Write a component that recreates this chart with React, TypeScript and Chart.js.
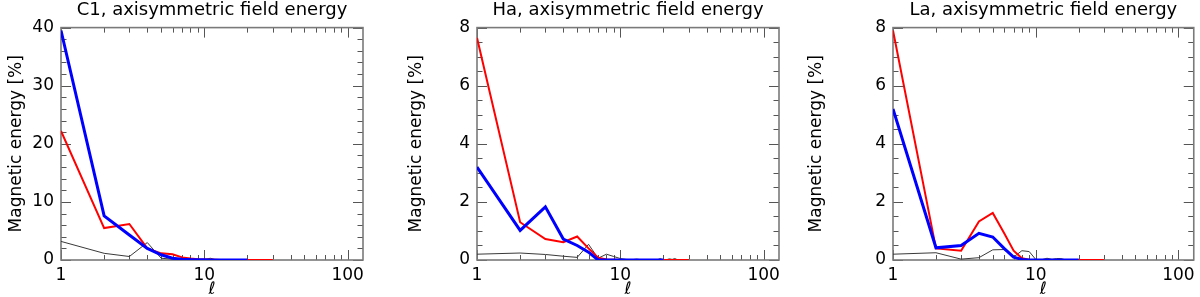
import React, { useEffect, useRef } from 'react';
import { Chart, registerables } from 'chart.js';

Chart.register(...registerables);

// ---- data ----
const ELL = [1, 2, 3, 4, 5, 6, 7, 8, 9, 10, 11, 12, 13, 14, 15, 16, 17, 18, 19, 20, 21, 22, 23, 24, 25, 26, 27, 28, 29, 30];

const C1_RED = [22.2, 5.5, 6.2, 2.0, 1.15, 1.0, 0.45, 0.25, 0.12, 0.08, 0.05, 0.03, 0.02, 0.01, 0.01, 0, 0, 0, 0, 0, 0, 0, 0, 0, 0, 0, 0, 0, 0, 0];
const C1_BLUE = [39.5, 7.6, 4.3, 2.0, 0.9, 0.3, 0.15, 0.08, 0.05, 0.03, 0.02, 0.01, 0.01, 0, 0, 0, 0, 0, 0, 0];
const C1_GRAY = [3.2, 1.15, 0.6, 3.0, 0.3, 0.15, 0.1, 0.05, 0.05, 0.05, 0.3, 0.05, 0.02, 0.01, 0, 0, 0, 0, 0, 0, 0, 0, 0, 0, 0, 0, 0, 0, 0, 0];

const HA_RED = [7.65, 1.3, 0.72, 0.61, 0.81, 0.4, 0.08, 0.02, 0.01, 0, 0, 0, 0, 0, 0, 0, 0, 0, 0, 0, 0, 0, 0, 0, 0, 0, 0, 0, 0, 0];
const HA_BLUE = [3.2, 1.02, 1.83, 0.72, 0.5, 0.27, 0, 0, 0, 0, 0, 0, 0, 0, 0, 0, 0, 0, 0, 0];
const HA_GRAY = [0.2, 0.24, 0.19, 0.13, 0.09, 0.54, 0.06, 0.2, 0.12, 0.05, 0.02, 0.01, 0.03, 0.01, 0, 0, 0, 0, 0.05, 0, 0.01, 0.04, 0.02, 0.05, 0.01, 0, 0, 0, 0, 0.02];

const LA_RED = [7.9, 0.4, 0.32, 1.33, 1.62, 0.93, 0.32, 0.06, 0.01, 0, 0, 0, 0, 0, 0, 0, 0, 0, 0, 0, 0, 0, 0, 0, 0, 0, 0, 0, 0, 0];
const LA_BLUE = [5.2, 0.42, 0.5, 0.92, 0.79, 0.4, 0.1, 0.02, 0, 0, 0, 0, 0, 0, 0, 0, 0, 0, 0, 0];
const LA_GRAY = [0.2, 0.25, 0.03, 0.08, 0.35, 0.36, 0.1, 0.32, 0.29, 0.02, 0.01, 0.06, 0.02, 0.05, 0.05, 0.01, 0, 0, 0, 0, 0, 0, 0, 0, 0, 0, 0, 0, 0, 0];

const X_TICKS = [1, 2, 3, 4, 5, 6, 7, 8, 9, 10, 20, 30, 40, 50, 60, 70, 80, 90, 100];
const X_LABELS = [1, 10, 100];
const X_MIN = 1;
const X_MAX = 128;

const TITLES = ['C1, axisymmetric field energy', 'Ha, axisymmetric field energy', 'La, axisymmetric field energy'];
const Y_MAX = [40, 8, 8];
const Y_MAJOR = [10, 2, 2];
const Y_MINOR = [2, 0.5, 0.5];
const Y_TITLE = 'Magnetic energy [%]';
const X_TITLE = 'ℓ';

// ---- layout / style ----
const PANEL_LAYOUT = [
  { offset: 0, left: 61, padRight: 37 },
  { offset: 400, left: 77, padRight: 21 },
  { offset: 800, left: 93, padRight: 5 },
];
const FONT = 'DejaVu Sans';

const framePlugin = {
  id: 'frameTicks',
  beforeDatasetsDraw(chart: any) {
    const { ctx, chartArea, scales } = chart;
    const { left, right, top, bottom } = chartArea;
    const x = scales.x;
    const y = scales.y;
    const yMajor = chart.options.plugins.frameTicks.yMajor;
    ctx.save();
    ctx.strokeStyle = '#555';
    ctx.lineWidth = 1;
    ctx.beginPath();
    x.ticks.forEach((t: any) => {
      const px = Math.round(x.getPixelForValue(t.value)) + 0.5;
      const len = X_LABELS.includes(t.value) ? 10 : 5;
      ctx.moveTo(px, bottom);
      ctx.lineTo(px, bottom - len);
      ctx.moveTo(px, top);
      ctx.lineTo(px, top + len);
    });
    y.ticks.forEach((t: any) => {
      const py = Math.round(y.getPixelForValue(t.value)) + 0.5;
      const r = t.value / yMajor;
      const len = Math.abs(r - Math.round(r)) < 1e-6 ? 10 : 5.5;
      ctx.moveTo(left, py);
      ctx.lineTo(left + len, py);
      ctx.moveTo(right, py);
      ctx.lineTo(right - len, py);
    });
    ctx.stroke();
    ctx.strokeStyle = '#7a7a7a';
    ctx.lineWidth = 1.6;
    ctx.strokeRect(left, top, right - left, bottom - top);
    ctx.restore();
  },
};

function toPoints(vals: number[]) {
  return vals.map((v, i) => ({ x: ELL[i], y: v }));
}

const SERIES = [
  [C1_BLUE, C1_RED, C1_GRAY],
  [HA_BLUE, HA_RED, HA_GRAY],
  [LA_BLUE, LA_RED, LA_GRAY],
];

function Panel({ idx }: { idx: number }) {
  const ref = useRef<HTMLCanvasElement | null>(null);
  useEffect(() => {
    if (!ref.current) return;
    const lay = PANEL_LAYOUT[idx];
    const [blue, red, gray] = SERIES[idx];
    const yMajor = Y_MAJOR[idx];
    const chart = new Chart(ref.current, {
      type: 'line',
      data: {
        datasets: [
          { data: toPoints(blue), borderColor: '#0000ff', borderWidth: 3, pointRadius: 0, tension: 0, fill: false },
          { data: toPoints(red), borderColor: '#ff0000', borderWidth: 2, pointRadius: 0, tension: 0, fill: false },
          { data: toPoints(gray), borderColor: '#3a3a3a', borderWidth: 1, pointRadius: 0, tension: 0, fill: false },
        ],
      },
      options: {
        responsive: false,
        animation: false,
        events: [],
        layout: { padding: { left: 0, right: lay.padRight, top: 0, bottom: 0 } },
        plugins: {
          legend: { display: false },
          tooltip: { enabled: false },
          title: {
            display: true,
            text: TITLES[idx],
            color: '#000',
            fullSize: false,
            font: { family: FONT, size: 18, weight: 'normal' },
            padding: { top: 0, bottom: 6 },
          },
          frameTicks: { yMajor },
        } as any,
        scales: {
          x: {
            type: 'logarithmic',
            min: X_MIN,
            max: X_MAX,
            afterBuildTicks: (s: any) => {
              s.ticks = X_TICKS.map((v) => ({ value: v }));
            },
            afterFit: (s: any) => {
              s.height = 37;
            },
            grid: { display: false, drawTicks: false },
            border: { display: false },
            ticks: {
              autoSkip: false,
              maxRotation: 0,
              padding: 5,
              color: '#000',
              font: { family: FONT, size: 17 },
              callback: (v: any) => (X_LABELS.includes(Number(v)) ? String(v) : ''),
            },
            title: {
              display: true,
              text: X_TITLE,
              color: '#000',
              font: { family: FONT, size: 17, style: 'italic' },
              padding: { top: 0, bottom: -3 },
            },
          },
          y: {
            type: 'linear',
            min: 0,
            max: Y_MAX[idx],
            afterFit: (s: any) => {
              s.width = lay.left;
            },
            grid: { display: false, drawTicks: false },
            border: { display: false },
            ticks: {
              stepSize: Y_MINOR[idx],
              autoSkip: false,
              padding: 7,
              color: '#000',
              font: { family: FONT, size: 17 },
              callback: (v: any) => {
                const r = Number(v) / yMajor;
                return Math.abs(r - Math.round(r)) < 1e-6 ? String(v) : '';
              },
            },
            title: {
              display: true,
              text: Y_TITLE,
              color: '#000',
              font: { family: FONT, size: 17 },
              padding: { top: 6, bottom: 0 },
            },
          },
        },
      } as any,
      plugins: [framePlugin],
    });
    return () => chart.destroy();
  }, [idx]);
  const lay = PANEL_LAYOUT[idx];
  return (
    <div style={{ position: 'absolute', left: lay.offset, top: 0, width: 400, height: 297 }}>
      <canvas ref={ref} width={400} height={297} style={{ width: 400, height: 297, display: 'block' }} />
    </div>
  );
}

export default function App() {
  return (
    <div style={{ position: 'absolute', left: 0, top: 0, width: 1200, height: 297, background: '#fff', overflow: 'hidden' }}>
      <Panel idx={0} />
      <Panel idx={1} />
      <Panel idx={2} />
    </div>
  );
}
